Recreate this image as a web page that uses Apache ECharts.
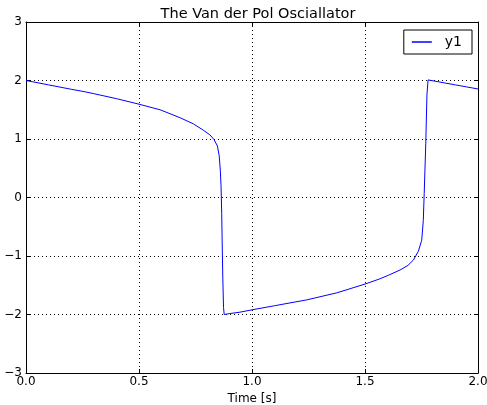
<!DOCTYPE html>
<html>
<head>
<meta charset="utf-8">
<script src="https://cdn.jsdelivr.net/npm/echarts@6/dist/echarts.min.js"></script>
<style>
  html, body { margin: 0; padding: 0; background: #fff; }
  #chart { width: 487px; height: 405px; }
</style>
</head>
<body>
<div id="chart"></div>
<script>
// values
const times = [
  0.0, 0.1, 0.2, 0.257, 0.3, 0.4, 0.5, 0.593, 0.681, 0.74, 0.785, 0.814, 0.832,
  0.847, 0.855, 0.860, 0.863, 0.866, 0.869, 0.871, 0.874, 0.877,
  0.9, 0.947, 1.0, 1.1, 1.242, 1.375, 1.5, 1.566, 1.603, 1.655, 1.69, 1.714,
  1.736, 1.751, 1.758, 1.762, 1.769, 1.774, 1.779,
  1.85, 1.9, 1.95, 2.0
]
const y1 = [
  2.0, 1.925, 1.85, 1.81, 1.775, 1.69, 1.595, 1.5, 1.365, 1.26, 1.15, 1.07, 0.99,
  0.88, 0.71, 0.45, 0.2, -0.27, -1.0, -1.41, -1.88, -2.0,
  -1.985, -1.96, -1.92, -1.85, -1.75, -1.63, -1.48, -1.39, -1.33, -1.24, -1.16, -1.07,
  -0.92, -0.73, -0.39, 0.07, 0.93, 1.75, 2.01,
  1.96, 1.925, 1.89, 1.855
]
const xTicks = [0, 2, 0.5]
const yTicks = [-3, 3, 1]

const font = 'DejaVu Sans'
const chart = echarts.init(document.getElementById('chart'))

const axisBase = {
  axisLine: { show: true, onZero: false, lineStyle: { color: '#000', width: 1 } },
  axisTick: { show: true, inside: true, length: 4, lineStyle: { color: '#000' } },
}

chart.setOption({
  animation: false,
  textStyle: { fontFamily: font },
  title: {
    text: 'The Van der Pol Osciallator',
    left: 253,
    textAlign: 'center',
    top: 2,
    textStyle: { fontFamily: font, fontSize: 14.5, fontWeight: 'normal', color: '#000' },
  },
  legend: {
    data: [{ name: 'y1', icon: 'rect' }],
    right: 15,
    top: 30,
    itemWidth: 20,
    itemHeight: 1.5,
    padding: [5, 10, 5, 8],
    borderColor: '#000',
    borderWidth: 1,
    borderRadius: 0,
    textStyle: { fontFamily: font, fontSize: 14, color: '#000', padding: [0, 0, 0, 8] },
  },
  grid: { left: 26, right: 9, top: 22, bottom: 32, containLabel: false, outerBoundsMode: 'none' },
  xAxis: [
    {
      ...axisBase,
      type: 'value',
      min: xTicks[0],
      max: xTicks[1],
      interval: xTicks[2],
      name: 'Time [s]',
      nameLocation: 'middle',
      nameGap: 20,
      nameTextStyle: { fontFamily: font, fontSize: 12, color: '#000' },
      axisLabel: {
        fontFamily: font,
        fontSize: 12,
        color: '#000',
        margin: 3,
        formatter: (v) => v.toFixed(1),
      },
      splitLine: { show: true, lineStyle: { color: '#000', type: [1, 3], width: 1 } },
    },
    {
      ...axisBase,
      type: 'value',
      position: 'top',
      min: xTicks[0],
      max: xTicks[1],
      interval: xTicks[2],
      axisLabel: { show: false },
      splitLine: { show: false },
    },
  ],
  yAxis: [
    {
      ...axisBase,
      type: 'value',
      min: yTicks[0],
      max: yTicks[1],
      interval: yTicks[2],
      axisLabel: {
        fontFamily: font,
        fontSize: 12,
        color: '#000',
        margin: 4,
        formatter: (v) => String(v).replace('-', '\u2212'),
      },
      splitLine: { show: true, lineStyle: { color: '#000', type: [1, 3], width: 1 } },
    },
    {
      ...axisBase,
      type: 'value',
      position: 'right',
      min: yTicks[0],
      max: yTicks[1],
      interval: yTicks[2],
      axisLabel: { show: false },
      splitLine: { show: false },
    },
  ],
  series: [
    {
      name: 'y1',
      type: 'line',
      data: times.map((t, i) => [t, y1[i]]),
      showSymbol: false,
      color: '#0000ff',
      lineStyle: { color: '#0000ff', width: 1 },
    },
  ],
})
</script>
</body>
</html>
